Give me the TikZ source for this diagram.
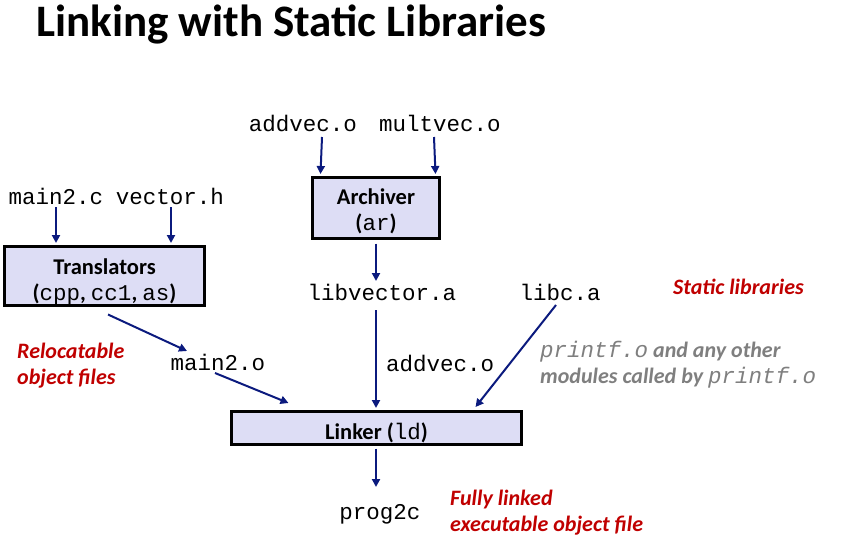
\documentclass[tikz,border=0pt]{standalone}
\usepackage{fontspec}
\setmainfont{Carlito}
\setmonofont{Liberation Mono}
\usetikzlibrary{arrows.meta,positioning,calc}
\definecolor{navy}{HTML}{0B1A7E}
\definecolor{boxfill}{HTML}{DDDDF5}
\definecolor{note}{HTML}{C00000}
\definecolor{muted}{HTML}{7F7F7F}

\newcommand{\code}[1]{{\mdseries\ttfamily #1}}

\begin{document}
\begin{tikzpicture}[x=1pt, y=-1pt,
  every node/.style={inner sep=0pt},
  tool/.style={draw=black, fill=boxfill, line width=3pt, align=center,
               font=\fontsize{22.5}{26.5}\selectfont\bfseries},
  file/.style={font=\fontsize{22.5}{24}\selectfont\ttfamily},
  remark/.style={text=note, align=left,
                 font=\fontsize{22}{26}\selectfont\bfseries\itshape},
  arr/.style={-{Triangle[length=8pt,width=8pt]}, line width=2pt, draw=navy}
]
  \useasboundingbox (0,0) rectangle (861,543);

  \node[anchor=base west, font=\fontsize{45}{50}\selectfont\bfseries] (title) at (36,37)
    {Linking with Static Libraries};

  % tools
  \node[tool, minimum width=200pt, minimum height=59pt, text height=54pt] (trans) at (104.5,276)
    {Translators\\(\code{cpp}, \code{cc1}, \code{as})};
  \node[tool, minimum width=127pt, minimum height=61pt, text height=49pt] (ar) at (376,208)
    {Archiver\\(\code{ar})};
  \node[tool, minimum width=290pt, minimum height=33pt, text height=27pt] (linker) at (376.5,428)
    {Linker (\code{ld})};

  % input files
  \node[file] (main2c)  at (56,196)  {main2.c};
  \node[file] (vectorh) at (170,196) {vector.h};
  \node[file] (addvec)  at (303,123) {addvec.o};
  \node[file] (multvec) at (440,123) {multvec.o};

  % intermediate files
  \node[file] (libvec) at (382,292) {libvector.a};
  \node[file] (libc)   at (560,292) {libc.a};
  \node[file] (main2o) at (218,362) {main2.o};
  \node[file, anchor=west] (addveco) at (386,363) {addvec.o};
  \node[file] (prog) at (380,514) {prog2c};

  % remarks
  \node[remark, anchor=west] (static) at (673,287) {Static libraries};
  \node[remark, anchor=west] (reloc) at (17,366) {Relocatable\\object files};
  \node[remark, anchor=west] (full) at (450,513) {Fully linked\\executable object file};
  \node[remark, anchor=west, text=muted] (printf) at (540,365)
    {{\mdseries\ttfamily\fontsize{22.5}{26}\selectfont printf.o}\ and any other\\
     modules called by {\mdseries\ttfamily\fontsize{22.5}{26}\selectfont printf.o}};

  % connectors
  \draw[arr, shorten >=2pt] (main2c) ++(0,11) -- (main2c |- trans.north);
  \draw[arr, shorten >=2pt] (vectorh) ++(1,11) -- ([xshift=1pt]vectorh |- trans.north);
  \draw[arr] (addvec) ++(19,14) -- ([xshift=9.5pt,yshift=2pt]ar.north west);
  \draw[arr] (multvec) ++(-6,14) -- ([xshift=-5.5pt,yshift=2pt]ar.north east);
  \draw[arr] (ar.south) ++(0,3.5) -- ([xshift=-6pt,yshift=11pt]libvec.center);
  \draw[arr] ([xshift=3.5pt,yshift=-7.5pt]trans.south) -- ([xshift=-31pt,yshift=11pt]main2o.center);
  \draw[arr] ([xshift=-3pt,yshift=-11pt]main2o.center) -- ([xshift=58.5pt,yshift=7pt]linker.north west);
  \draw[arr] ([xshift=-6pt,yshift=-18pt]libvec.center) -- ([xshift=-0.5pt,yshift=2pt]linker.north);
  \draw[arr] ([xshift=-4pt,yshift=-13pt]libc.center) -- ([xshift=-47.5pt,yshift=3pt]linker.north east);
  \draw[arr] ([xshift=-0.5pt,yshift=-2.5pt]linker.south) -- ([xshift=-4pt,yshift=27pt]prog.center);
\end{tikzpicture}
\end{document}
